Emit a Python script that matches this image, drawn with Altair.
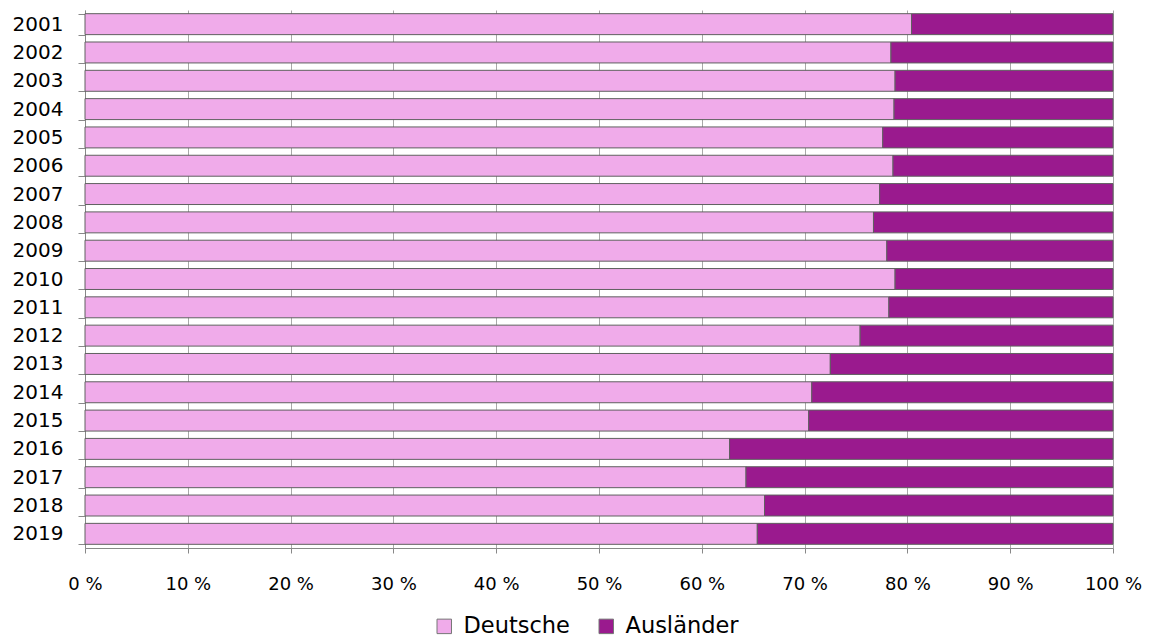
import altair as alt
import pandas as pd

years = [str(y) for y in range(2001, 2020)]
deutsche = [80.4, 78.4, 78.8, 78.7, 77.6, 78.6, 77.3, 76.7, 78.0, 78.8,
            78.2, 75.4, 72.5, 70.7, 70.4, 62.7, 64.3, 66.1, 65.4]
auslaender = [19.6, 21.6, 21.2, 21.3, 22.4, 21.4, 22.7, 23.3, 22.0, 21.2,
              21.8, 24.6, 27.5, 29.3, 29.6, 37.3, 35.7, 33.9, 34.6]
groups = ["Deutsche", "Ausländer"]
colors = ["#F0ABEA", "#9A1A8E"]
x_ticks = list(range(0, 101, 10))

rows = []
for y, d, a in zip(years, deutsche, auslaender):
    rows.append({"Jahr": y, "Gruppe": groups[0], "Anteil": d, "Rang": 0})
    rows.append({"Jahr": y, "Gruppe": groups[1], "Anteil": a, "Rang": 1})
df = pd.DataFrame(rows)

font = "DejaVu Sans"

chart = alt.Chart(df).mark_bar(stroke="#606060", strokeWidth=1).encode(
    y=alt.Y(
        "Jahr:N", sort=years, title=None,
        scale=alt.Scale(paddingInner=0.26, paddingOuter=0.13),
        axis=alt.Axis(
            tickBand="extent", tickSize=7, tickColor="#888888",
            domainColor="#888888", labelFont=font, labelFontSize=20,
            labelColor="black", labelPadding=15, grid=False,
        ),
    ),
    x=alt.X(
        "Anteil:Q", stack="zero", title=None,
        scale=alt.Scale(domain=[0, 100], nice=False),
        axis=alt.Axis(
            values=x_ticks, labelExpr="datum.value + ' %'",
            grid=True, gridColor="#a8a8a8", gridWidth=1,
            tickSize=5, tickColor="#888888", domainColor="#888888",
            labelFont=font, labelFontSize=18, labelColor="black",
            labelPadding=22, labelFlush=False, labelOverlap=False,
        ),
    ),
    color=alt.Color(
        "Gruppe:N",
        scale=alt.Scale(domain=groups, range=colors),
        legend=alt.Legend(
            title=None, orient="none", legendX=348, legendY=605,
            direction="horizontal", symbolType="square", symbolSize=210,
            symbolStrokeColor="#777777", symbolStrokeWidth=1,
            labelFont=font, labelFontSize=22.5, labelColor="black",
            labelOffset=8, columnPadding=25,
        ),
    ),
    order=alt.Order("Rang:Q"),
).properties(
    width=1028,
    height=538,
    autosize=alt.AutoSizeParams(type="none"),
    padding={"left": 85, "top": 10, "right": 36, "bottom": 90},
).configure_view(stroke=None)

chart.save("out.html", embed_options={"renderer": "svg", "actions": False})
